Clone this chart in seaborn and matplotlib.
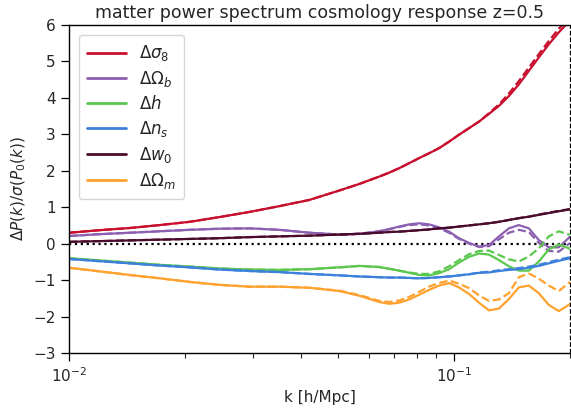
import numpy as np
import pandas as pd
import matplotlib
matplotlib.use("Agg")
import matplotlib.pyplot as plt
import seaborn as sns

# wavenumbers [h/Mpc]
k = [0.0100, 0.0120, 0.0144, 0.0172, 0.0206, 0.0246, 0.0294, 0.0352, 0.0421, 0.0504,
     0.0568, 0.0639, 0.0679, 0.0720, 0.0765, 0.0812, 0.0861, 0.0914, 0.0971, 0.1030,
     0.1094, 0.1161, 0.1232, 0.1308, 0.1388, 0.1473, 0.1564, 0.1660, 0.1762, 0.1871,
     0.2000]

# response to each parameter: full model (solid) and approximation (dashed)
sigma8 = [0.30, 0.37, 0.43, 0.51, 0.60, 0.73, 0.87, 1.03, 1.20, 1.46, 1.64, 1.84, 1.95, 2.07,
          2.21, 2.35, 2.48, 2.62, 2.80, 2.99, 3.17, 3.35, 3.56, 3.78, 4.05, 4.37, 4.74, 5.11,
          5.47, 5.80, 6.12]
sigma8_d = [0.30, 0.37, 0.43, 0.51, 0.60, 0.73, 0.87, 1.03, 1.20, 1.46, 1.64, 1.84, 1.95, 2.07,
            2.21, 2.35, 2.48, 2.62, 2.80, 2.99, 3.17, 3.35, 3.58, 3.82, 4.12, 4.46, 4.83, 5.20,
            5.56, 5.90, 6.22]

omega_b = [0.21, 0.26, 0.30, 0.34, 0.38, 0.41, 0.42, 0.38, 0.30, 0.25, 0.27, 0.34, 0.40, 0.47,
           0.53, 0.56, 0.53, 0.45, 0.33, 0.15, 0.02, -0.08, -0.04, 0.20, 0.42, 0.51, 0.42, 0.10,
           -0.10, -0.10, 0.19]
omega_b_d = [0.21, 0.26, 0.30, 0.34, 0.38, 0.41, 0.42, 0.38, 0.30, 0.25, 0.27, 0.34, 0.40, 0.46,
             0.51, 0.53, 0.50, 0.42, 0.30, 0.13, 0.00, -0.09, -0.07, 0.12, 0.30, 0.38, 0.32, 0.02,
             -0.20, -0.22, 0.02]

h = [-0.40, -0.46, -0.52, -0.58, -0.63, -0.68, -0.71, -0.72, -0.70, -0.65, -0.61, -0.64, -0.69,
     -0.74, -0.80, -0.86, -0.87, -0.81, -0.70, -0.52, -0.36, -0.27, -0.30, -0.45, -0.62, -0.74,
     -0.74, -0.49, -0.16, -0.02, -0.14]
h_d = [-0.40, -0.46, -0.52, -0.58, -0.63, -0.68, -0.71, -0.72, -0.70, -0.65, -0.61, -0.64, -0.69,
       -0.74, -0.79, -0.83, -0.83, -0.76, -0.62, -0.45, -0.29, -0.20, -0.19, -0.31, -0.43, -0.49,
       -0.35, -0.13, 0.20, 0.34, 0.24]

n_s = [-0.42, -0.48, -0.54, -0.60, -0.65, -0.71, -0.75, -0.78, -0.83, -0.87, -0.90, -0.92, -0.93,
       -0.93, -0.94, -0.95, -0.94, -0.92, -0.90, -0.87, -0.84, -0.80, -0.79, -0.75, -0.72, -0.70,
       -0.66, -0.61, -0.54, -0.47, -0.40]
n_s_d = [-0.42, -0.48, -0.54, -0.60, -0.65, -0.71, -0.75, -0.78, -0.83, -0.87, -0.90, -0.92, -0.93,
         -0.93, -0.94, -0.95, -0.94, -0.92, -0.90, -0.87, -0.84, -0.79, -0.77, -0.73, -0.70, -0.67,
         -0.63, -0.58, -0.51, -0.44, -0.37]

w0 = [0.05, 0.07, 0.09, 0.11, 0.13, 0.15, 0.18, 0.20, 0.22, 0.25, 0.27, 0.30, 0.32, 0.33, 0.35,
      0.37, 0.39, 0.42, 0.44, 0.47, 0.50, 0.53, 0.56, 0.60, 0.65, 0.70, 0.74, 0.79, 0.84, 0.89,
      0.94]
w0_d = [0.05, 0.07, 0.09, 0.11, 0.13, 0.15, 0.18, 0.20, 0.22, 0.25, 0.27, 0.30, 0.32, 0.33, 0.35,
        0.37, 0.39, 0.42, 0.44, 0.47, 0.50, 0.53, 0.56, 0.60, 0.65, 0.70, 0.74, 0.80, 0.85, 0.90,
        0.95]

omega_m = [-0.66, -0.76, -0.86, -0.95, -1.05, -1.13, -1.18, -1.18, -1.21, -1.30, -1.43, -1.60,
           -1.65, -1.62, -1.53, -1.40, -1.27, -1.15, -1.08, -1.20, -1.38, -1.62, -1.83, -1.78,
           -1.52, -1.20, -1.15, -1.36, -1.68, -1.85, -1.66]
omega_m_d = [-0.66, -0.76, -0.86, -0.95, -1.05, -1.13, -1.18, -1.18, -1.21, -1.29, -1.41, -1.57,
             -1.60, -1.56, -1.46, -1.32, -1.18, -1.08, -1.01, -1.10, -1.22, -1.42, -1.57, -1.53,
             -1.36, -0.92, -0.82, -0.96, -1.15, -1.30, -1.05]

labels = [r"$\Delta\sigma_8$", r"$\Delta\Omega_b$", r"$\Delta h$",
          r"$\Delta n_s$", r"$\Delta w_0$", r"$\Delta\Omega_m$"]
solid = [sigma8, omega_b, h, n_s, w0, omega_m]
dashed = [sigma8_d, omega_b_d, h_d, n_s_d, w0_d, omega_m_d]
colors = ["#c80f2e", "#8c60b0", "#5bc74e", "#3d80dc", "#4a0b2c", "#ffa12e"]

sns.set_style("ticks")
plt.rcParams["font.family"] = ["DejaVu Sans"]
plt.rcParams["mathtext.fontset"] = "dejavusans"

fig = plt.figure(figsize=(5.71, 4.12), dpi=100)
ax = fig.add_axes([0.1208, 0.1432, 0.8774, 0.7961])

for lab, ys, yd, c in zip(labels, solid, dashed, colors):
    sns.lineplot(x=k, y=ys, color=c, lw=1.6, label=lab, ax=ax)
    sns.lineplot(x=k, y=yd, color=c, lw=1.6, linestyle="--", ax=ax)

ax.axhline(0, color="black", ls=":", lw=1.6, zorder=1)
ax.axvline(0.2, color="black", ls="--", lw=0.9, zorder=5, clip_on=False)

ax.set_xscale("log")
ax.set_xlim(0.01, 0.2)
ax.set_ylim(-3, 6)
ax.set_yticks(range(-3, 7))
ax.spines["right"].set_visible(False)
for s in ["left", "bottom", "top"]:
    ax.spines[s].set_linewidth(1.0)
    ax.spines[s].set_color("black")
ax.tick_params(axis="both", which="major", length=6, width=0.9, labelsize=11, color="black")
ax.tick_params(axis="x", which="minor", length=3.5, width=0.8)
ax.tick_params(axis="y", which="minor", length=0)

ax.set_title("matter power spectrum cosmology response z=0.5", fontsize=12.5, pad=5)
ax.set_xlabel("k [h/Mpc]", fontsize=11)
ax.set_ylabel(r"$\Delta P(k)/\sigma(P_0(k))$", fontsize=11)

leg = ax.legend(loc="upper left", fontsize=12, handlelength=2.3, labelspacing=0.35,
                frameon=True, borderaxespad=0.6, borderpad=0.5)
for line in leg.get_lines():
    line.set_linewidth(2.0)

fig.savefig("out.png", dpi=100)
